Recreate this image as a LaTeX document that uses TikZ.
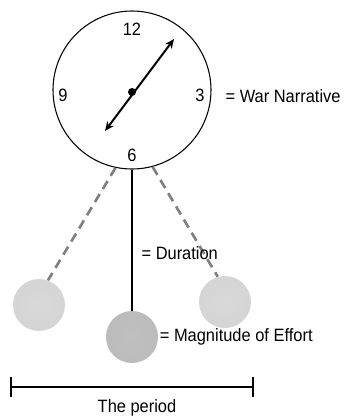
\documentclass[tikz,border=0pt]{standalone}
\usepackage{fontspec}
\setmainfont[FakeStretch=0.92]{Liberation Sans}
\usetikzlibrary{arrows.meta,positioning}
\pgfdeclareradialshading{bobshade}{\pgfpointorigin}{color(0bp)=(black!15); color(32bp)=(black!17); color(45bp)=(black!24); color(50bp)=(black!42)}
\pgfdeclareradialshading{bobdark}{\pgfpointorigin}{color(0bp)=(black!25); color(32bp)=(black!27); color(45bp)=(black!33); color(50bp)=(black!50)}

\begin{document}
\begin{tikzpicture}[
  x=0.75pt, y=-0.75pt,
  font=\fontsize{13.4}{15}\selectfont, >={Stealth[length=7pt,width=6pt]},
  face/.style={draw, circle, line width=0.8pt, minimum size=118.5pt, inner sep=0pt},
  bob/.style={circle, shading=bobshade, minimum size=39pt, inner sep=0pt},
  hand/.style={<->, line width=1.5pt},
  rod/.style={line width=1.5pt},
  swing/.style={dash pattern=on 7pt off 4.5pt, line width=2pt, draw=black!50},
  lbl/.style={inner sep=1pt, anchor=west},
]
\useasboundingbox (0,0) rectangle (344,419);
% clock
\node[face] (clock) at (132,90) {};
\node (n12) at (132,29)  {12};
\node (n9)  at (63,95)   {9};
\node (n3)  at (200,95)  {3};
\node (n6)  at (132,155) {6};
\coordinate (tipa) at (174,39);
\coordinate (tipb) at (105,131);
\draw[hand] (tipb) -- (tipa);
\fill (132,92) circle (3pt);
\node[lbl] (war) at (224,96) {= War Narrative};
% pendulum
\node[bob] (left)  at (39,305)  {};
\node[bob, shading=bobdark] (mid) at (132,337) {};
\node[bob] (right) at (225,302) {};
\draw[swing] (clock.-102) -- (left.70);
\draw[swing] (clock.-75) -- (right.106);
\draw[rod] (clock.south) -- (mid.north);
\node[lbl] (dur) at (140,253) {= Duration};
\node[lbl] (mag) at (mid.east) {= Magnitude of Effort};
% period
\coordinate (pl) at (10,387);
\coordinate (pr) at (254,387);
\draw[{Bar[width=15pt]}-{Bar[width=15pt]}, line width=1.5pt] (pl) -- (pr);
\node (period) at (137,408) {The period};
\end{tikzpicture}
\end{document}
